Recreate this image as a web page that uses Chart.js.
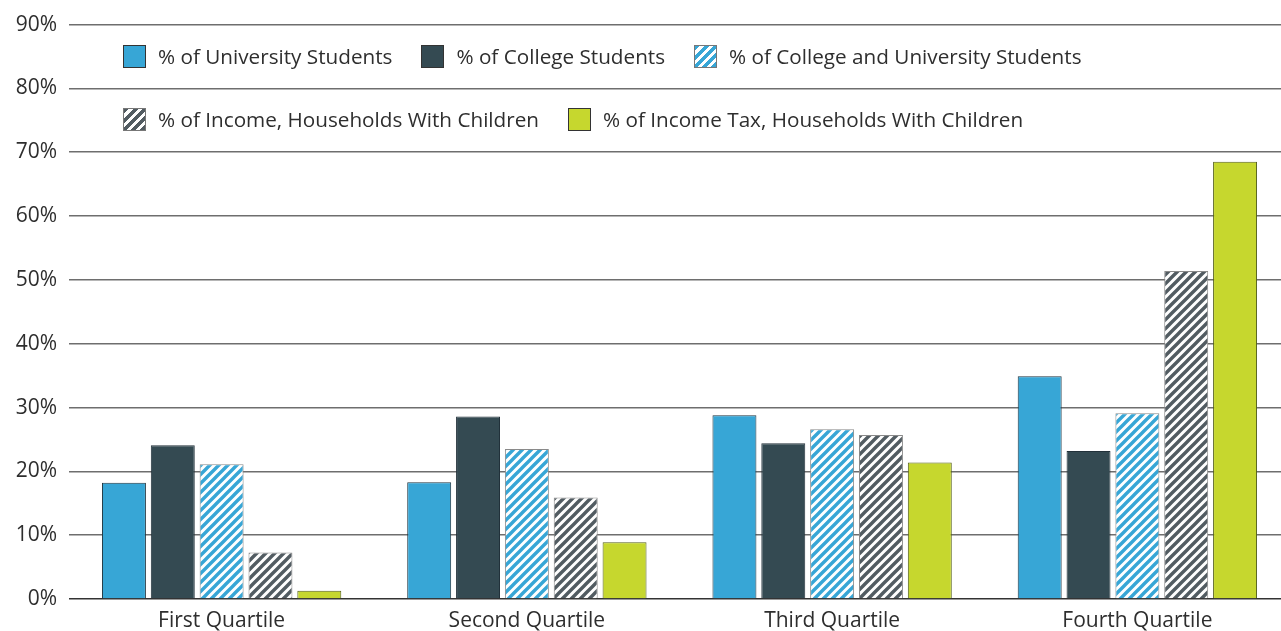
<!DOCTYPE html>
<html>
<head>
<meta charset="utf-8">
<script src="https://cdn.jsdelivr.net/npm/chart.js@4"></script>
<style>
	body { margin: 0; background: #fff; overflow: hidden; }
	#wrap { position: relative; width: 1290px; height: 631px; }
	#legend { position: absolute; left: 123px; top: 44px; font-family: "Open Sans", sans-serif; font-size: 20.7px; color: #2e2e2e; }
	#legend .row { display: flex; align-items: center; height: 24px; margin-bottom: 39px; }
	#legend .item { display: flex; align-items: center; margin-right: 29px; }
	#legend .box { width: 21px; height: 21px; border: 1px solid #333; margin-right: 12px; }
</style>
</head>
<body>
<div id="wrap">
	<canvas id="bar-chartcanvas"></canvas>
	<div id="legend"></div>
</div>
<script>
// Kvartiler og serier
var quartiles = ["First Quartile", "Second Quartile", "Third Quartile", "Fourth Quartile"];
var seriesNames = [
	"% of University Students",
	"% of College Students",
	"% of College and University Students",
	"% of Income, Households With Children",
	"% of Income Tax, Households With Children"
];
var universityStudents = [18.2, 18.3, 28.8, 34.9];
var collegeStudents = [24.1, 28.6, 24.4, 23.2];
var collegeAndUniversity = [21.1, 23.5, 26.6, 29.1];
var incomeWithChildren = [7.3, 15.9, 25.7, 51.4];
var incomeTaxWithChildren = [1.3, 8.9, 21.4, 68.5];
var yTicks = [0, 10, 20, 30, 40, 50, 60, 70, 80, 90];

var blue = "#37a6d6";
var darkSlate = "#344a52";
var stripeGray = "#525c62";
var lime = "#c6d72e";
var fontFamily = "Open Sans";

//Lager skravert mønster for søylene
function stripes(color) {
	var s = 9;
	var c = document.createElement("canvas");
	c.width = s;
	c.height = s;
	var g = c.getContext("2d");
	g.fillStyle = "#fff";
	g.fillRect(0, 0, s, s);
	g.strokeStyle = color;
	g.lineWidth = 3.4;
	g.beginPath();
	g.moveTo(-2, 2); g.lineTo(2, -2);
	g.moveTo(0, s); g.lineTo(s, 0);
	g.moveTo(s - 2, s + 2); g.lineTo(s + 2, s - 2);
	g.stroke();
	return g.createPattern(c, "repeat");
}

var ctx = document.getElementById("bar-chartcanvas");
var fills = [blue, darkSlate, stripes(blue), stripes(stripeGray), lime];
var borders = ["#1f3440", "#22313a", "#8a8a8a", "#8a8a8a", "#55601a"];
var values = [universityStudents, collegeStudents, collegeAndUniversity, incomeWithChildren, incomeTaxWithChildren];

var datasets = seriesNames.map(function (name, i) {
	return {
		label: name,
		data: values[i],
		backgroundColor: fills[i],
		borderColor: borders[i],
		borderWidth: 1,
		categoryPercentage: 0.8,
		barPercentage: 0.9
	};
});

// lerretet er litt bredere enn vinduet, plottet går forbi høyre kant
var chart = new Chart(ctx, {
	type: "bar",
	data: { labels: quartiles, datasets: datasets },
	options: {
		responsive: true,
		maintainAspectRatio: false,
		animation: false,
		layout: { padding: { top: 14, right: 0, bottom: 0, left: 0 } },
		plugins: { legend: { display: false }, tooltip: { enabled: false } },
		scales: {
			x: {
				grid: { display: false },
				border: { display: false },
				ticks: { color: "#2e2e2e", padding: 1, font: { family: fontFamily, size: 21 } },
				afterFit: function (scale) { scale.height = 32; }
			},
			y: {
				min: 0,
				max: 90,
				afterBuildTicks: function (scale) {
					scale.ticks = yTicks.map(function (v) { return { value: v }; });
				},
				afterFit: function (scale) { scale.width = 69; },
				border: { display: false },
				grid: {
					drawTicks: false,
					lineWidth: 1.5,
					color: function (c) { return c.tick && c.tick.value === 0 ? "#333" : "#6e6e6e"; }
				},
				ticks: {
					color: "#2e2e2e",
					padding: 12,
					font: { family: fontFamily, size: 21 },
					callback: function (v) { return v + "%"; }
				}
			}
		}
	}
});

//Forklaring i to rader
var legendRows = [[0, 1, 2], [3, 4]];
var legend = document.getElementById("legend");
legendRows.forEach(function (row) {
	var r = document.createElement("div");
	r.className = "row";
	row.forEach(function (i) {
		var item = document.createElement("div");
		item.className = "item";
		var box = document.createElement("span");
		box.className = "box";
		if (i === 2 || i === 3) {
			var col = i === 2 ? blue : stripeGray;
			box.style.background = "repeating-linear-gradient(135deg, " + col + " 0 3.5px, #fff 3.5px 6.5px)";
			box.style.borderColor = "#777";
		} else {
			box.style.background = fills[i];
		}
		var txt = document.createElement("span");
		txt.textContent = seriesNames[i];
		item.appendChild(box);
		item.appendChild(txt);
		r.appendChild(item);
	});
	legend.appendChild(r);
});
</script>
</body>
</html>
